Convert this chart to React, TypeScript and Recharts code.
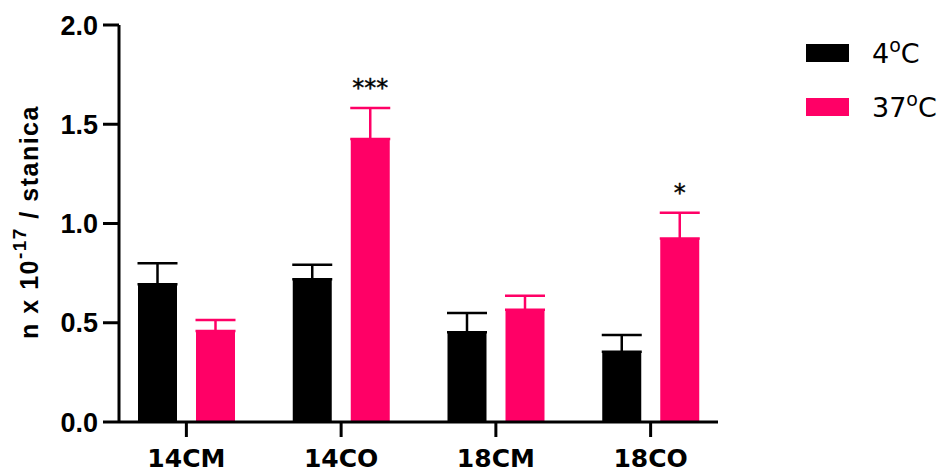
import { Bar, BarChart, XAxis, YAxis, ErrorBar, LabelList, Legend, Label } from "recharts"

const categories = ["14CM", "14CO", "18CM", "18CO"]
const cold = [0.694, 0.719, 0.452, 0.354]
const coldErr = [0.106, 0.073, 0.097, 0.084]
const warm = [0.458, 1.426, 0.566, 0.925]
const warmErr = [0.056, 0.156, 0.07, 0.129]
const sig = ["", "***", "", "*"]
const yTicks = [0, 0.5, 1, 1.5, 2]

const PINK = "#ff0066"

const data = categories.map((name, i) => ({
  name,
  cold: cold[i],
  coldErr: [0, coldErr[i]],
  warm: warm[i],
  warmErr: [0, warmErr[i]],
  sig: sig[i],
}))

const yLabel = (props: any) => {
  const cx = 29
  const cy = 222
  return (
    <text
      x={cx}
      y={cy}
      transform={`rotate(-90 ${cx} ${cy})`}
      textAnchor="middle"
      dominantBaseline="central"
      fontFamily="Liberation Sans"
      fontWeight="bold"
      fontSize={25}
      letterSpacing={1.5}
      fill="#000"
    >
      n x 10
      <tspan dy={-10} fontSize={19}>-17</tspan>
      <tspan dy={10}> / stanica</tspan>
    </text>
  )
}

const sigLabel = (props: any) => {
  const { x, y, width, height, value, index } = props
  if (!value) return null
  const pxPerUnit = height / warm[index]
  const errTop = y - warmErr[index] * pxPerUnit
  return (
    <text
      x={x + width / 2}
      y={errTop - 12}
      textAnchor="middle"
      fontFamily="DejaVu Sans"
      fontSize={24}
      stroke="#000"
      strokeWidth={0.4}
      fill="#000"
    >
      {value}
    </text>
  )
}

const legendContent = () => (
  <svg width={144} height={100}>
    {[
      { label: "4", color: "#000" },
      { label: "37", color: PINK },
    ].map((item, i) => (
      <g key={item.label} transform={`translate(0, ${i * 54})`}>
        <rect x={6} y={14} width={43} height={18} fill={item.color} />
        <text x={72} y={33} fontFamily="DejaVu Sans" fontSize={27} fill="#000">
          {item.label}
          <tspan dy={-11} fontSize={19}>o</tspan>
          <tspan dy={11}>C</tspan>
        </text>
      </g>
    ))}
  </svg>
)

export default function App() {
  return (
    <div style={{ position: "absolute", left: 0, top: 0, background: "#fff" }}>
      <BarChart
        width={944}
        height={471}
        data={data}
        margin={{ top: 25, right: 226, bottom: 0, left: 0 }}
        barSize={39}
        barGap={19}
      >
        <XAxis
          dataKey="name"
          height={49}
          padding={{ left: -10, right: -10 }}
          tickSize={15}
          tickMargin={12}
          axisLine={{ stroke: "#000", strokeWidth: 3 }}
          tickLine={{ stroke: "#000", strokeWidth: 3 }}
          tick={{ fill: "#000", fontFamily: "DejaVu Sans", fontWeight: "bold", fontSize: 25 }}
        />
        <YAxis
          width={119}
          domain={[0, 2]}
          ticks={yTicks}
          tickFormatter={(v: number) => v.toFixed(1)}
          tickSize={16}
          tickMargin={5}
          axisLine={{ stroke: "#000", strokeWidth: 3 }}
          tickLine={{ stroke: "#000", strokeWidth: 3 }}
          tick={{ fill: "#000", fontFamily: "Liberation Sans", fontWeight: "bold", fontSize: 27 }}
        >
          <Label content={yLabel} />
        </YAxis>
        <Legend
          layout="vertical"
          align="center"
          verticalAlign="middle"
          wrapperStyle={{ left: 800, top: 30, width: 144, height: 100 }}
          content={legendContent}
        />
        <Bar dataKey="cold" name="4°C" fill="#000" isAnimationActive={false}>
          <ErrorBar dataKey="coldErr" direction="y" width={20} stroke="#000" strokeWidth={2.5} />
        </Bar>
        <Bar dataKey="warm" name="37°C" fill={PINK} isAnimationActive={false}>
          <ErrorBar dataKey="warmErr" direction="y" width={20} stroke={PINK} strokeWidth={2.5} />
          <LabelList dataKey="sig" content={sigLabel} />
        </Bar>
      </BarChart>
    </div>
  )
}
